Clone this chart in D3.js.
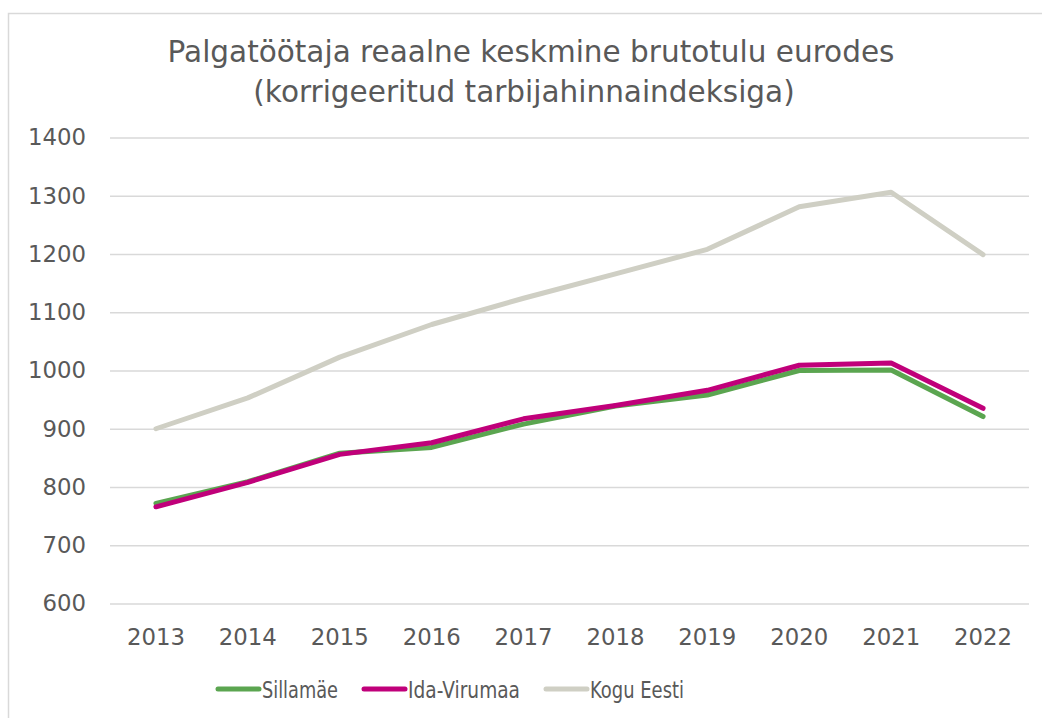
<!DOCTYPE html>
<html>
<head>
<meta charset="utf-8">
<script src="https://cdn.jsdelivr.net/npm/d3@7"></script>
<style>
  body { margin: 0; background: #fff; }
  text { font-family: "DejaVu Sans", Verdana, sans-serif; fill: #595959; }
</style>
</head>
<body>
<script>
// data
const years = ["2013", "2014", "2015", "2016", "2017", "2018", "2019", "2020", "2021", "2022"];
const sillamae = [772, 809, 858, 868, 908, 939, 958, 1000, 1001, 921];
const idaVirumaa = [766, 808, 856, 876, 917, 940, 966, 1009, 1013, 935];
const koguEesti = [900, 953, 1023, 1079, 1124, 1166, 1208, 1281, 1306, 1199];
const yTicks = [600, 700, 800, 900, 1000, 1100, 1200, 1300, 1400];
const seriesNames = ["Sillamäe", "Ida-Virumaa", "Kogu Eesti"];
const seriesColors = ["#5ba550", "#c0007a", "#cfcfc4"];

const width = 1042, height = 718;
const margin = {left: 110, right: 13, top: 137.5, bottom: 114.5};

const svg = d3.select("body").append("svg")
  .attr("width", width)
  .attr("height", height);

// chart border
svg.append("rect")
  .attr("x", 8.5).attr("y", 13.5)
  .attr("width", 1040).attr("height", 720)
  .attr("fill", "none")
  .attr("stroke", "#d9d9d9")
  .attr("stroke-width", 1.5);

// title
const title = svg.append("text")
  .attr("text-anchor", "middle")
  .attr("font-size", 29.5);
title.append("tspan").attr("x", 531).attr("y", 62).text("Palgatöötaja reaalne keskmine brutotulu eurodes");
title.append("tspan").attr("x", 524).attr("y", 102).text("(korrigeeritud tarbijahinnaindeksiga)");

const x = d3.scaleBand()
  .domain(years)
  .range([margin.left, width - margin.right]);

const y = d3.scaleLinear()
  .domain([600, 1400])
  .range([height - margin.bottom, margin.top]);

// gridlines + y labels
const yAxis = svg.append("g")
  .attr("transform", `translate(${margin.left},0)`)
  .call(d3.axisLeft(y).tickValues(yTicks).tickFormat(d3.format("d"))
    .tickSize(-(width - margin.left - margin.right)).tickPadding(24));
yAxis.select(".domain").remove();
yAxis.selectAll(".tick line").attr("stroke", "#d9d9d9").attr("stroke-width", 1.5);
yAxis.selectAll(".tick text")
  .attr("font-size", 22.8)
  .attr("fill", "#595959")
  .style("font-family", "DejaVu Sans, Verdana, sans-serif");

// x labels
const xAxis = svg.append("g")
  .attr("transform", `translate(0,${height - margin.bottom})`)
  .call(d3.axisBottom(x).tickSize(0).tickPadding(25));
xAxis.select(".domain").remove();
xAxis.selectAll(".tick text")
  .attr("font-size", 22.8)
  .attr("fill", "#595959")
  .style("font-family", "DejaVu Sans, Verdana, sans-serif");

// lines
const line = d3.line()
  .x((d, i) => x(years[i]) + x.bandwidth() / 2)
  .y(d => y(d));

[koguEesti, sillamae, idaVirumaa].forEach((vals, k) => {
  const color = [seriesColors[2], seriesColors[0], seriesColors[1]][k];
  svg.append("path")
    .datum(vals)
    .attr("d", line)
    .attr("fill", "none")
    .attr("stroke", color)
    .attr("stroke-width", 5)
    .attr("stroke-linejoin", "round")
    .attr("stroke-linecap", "round");
});

// legend (text is squeezed in the original)
const legendX = [218, 364, 546];
const legendW = [76, 112, 94];
const legend = svg.append("g");
seriesNames.forEach((name, i) => {
  legend.append("line")
    .attr("x1", legendX[i]).attr("x2", legendX[i] + 41)
    .attr("y1", 689).attr("y2", 689)
    .attr("stroke", seriesColors[i])
    .attr("stroke-width", 5)
    .attr("stroke-linecap", "round");
  legend.append("text")
    .attr("x", legendX[i] + 44)
    .attr("y", 698)
    .attr("font-size", 23)
    .attr("textLength", legendW[i])
    .attr("lengthAdjust", "spacingAndGlyphs")
    .text(name);
});
</script>
</body>
</html>
